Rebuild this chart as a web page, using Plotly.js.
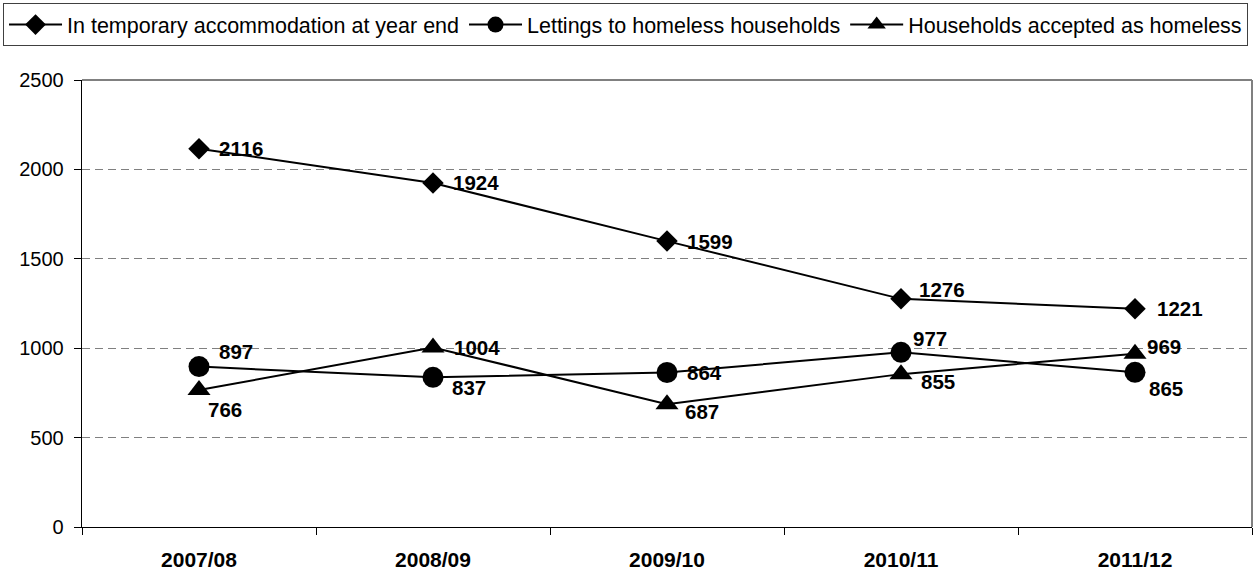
<!DOCTYPE html>
<html>
<head>
<meta charset="utf-8">
<script src="https://cdn.plot.ly/plotly-3.0.1.min.js"></script>
<style>html,body{margin:0;padding:0;background:#fff;}#chart{width:1260px;height:569px;}</style>
</head>
<body>
<div id="chart"></div>
<script>
// ---- data ----
const years = ['2007/08', '2008/09', '2009/10', '2010/11', '2011/12'];
const seriesNames = ['In temporary accommodation at year end', 'Lettings to homeless households', 'Households accepted as homeless'];
const tempAccommodation = [2116, 1924, 1599, 1276, 1221];
const lettings = [897, 837, 864, 977, 865];
const accepted = [766, 1004, 687, 855, 969];
const yTicks = [0, 500, 1000, 1500, 2000, 2500];

// ---- styling (label offsets in px: right, down) ----
const labelDx = [[20, 20, 20, 18, 22], [20, 19, 20, 12, 14], [9, 21, 18, 20, 12]];
const labelDy = [[0, 0, 0, -9, 0], [-15, 10, 0, -14, 16], [19, 0, 7, 7, -7]];
const symbols = ['diamond', 'circle', 'triangle-up'];
const sizes = [16.5, 21, 20];
const allSeries = [tempAccommodation, lettings, accepted];

const traces = allSeries.map((vals, i) => ({
  type: 'scatter', mode: 'lines+markers', name: seriesNames[i],
  x: years, y: vals,
  line: {color: '#000', width: 2},
  marker: {symbol: symbols[i], size: sizes[i], color: '#000'},
  hoverinfo: 'x+y'
}));

const annotations = [];
allSeries.forEach((vals, i) => {
  vals.forEach((v, j) => {
    annotations.push({
      x: years[j], y: v, xref: 'x', yref: 'y', text: String(v),
      showarrow: false, xanchor: 'left', yanchor: 'middle',
      xshift: labelDx[i][j] - 2, yshift: -labelDy[i][j],
      font: {family: 'Liberation Sans, Arial, sans-serif', size: 20.5, color: '#000', weight: 'bold'}
    });
  });
});

const layout = {
  width: 1260, height: 569,
  margin: {l: 82, r: 8, t: 80, b: 42, pad: 0, autoexpand: false},
  paper_bgcolor: '#fff', plot_bgcolor: '#fff',
  font: {family: 'Liberation Sans, Arial, sans-serif', color: '#000', size: 20},
  showlegend: true,
  legend: {
    orientation: 'h', x: -0.0675, y: 1.172, xanchor: 'left', yanchor: 'top',
    bordercolor: '#404040', borderwidth: 1, bgcolor: '#fff',
    font: {size: 21.5, color: '#000'}, itemwidth: 53, tracegroupgap: 0
  },
  xaxis: {
    type: 'category', range: [-0.5, 4.5], fixedrange: true, automargin: false,
    showline: true, linecolor: '#000', linewidth: 1.3,
    ticks: 'outside', tickson: 'boundaries', ticklen: 7, tickcolor: '#000', tickwidth: 1,
    showgrid: false, zeroline: false,
    tickfont: {size: 21, weight: 'bold'}, ticklabelstandoff: 13
  },
  yaxis: {
    range: [0, 2500], tickvals: yTicks, ticktext: yTicks.map(String), fixedrange: true, automargin: false,
    showline: true, linecolor: '#000', linewidth: 1.3,
    ticks: 'outside', ticklen: 7, tickcolor: '#000', tickwidth: 1,
    showgrid: true, gridcolor: '#808080', gridwidth: 1, griddash: '8px,5px',
    zeroline: false, tickfont: {size: 20}, ticklabelstandoff: 6
  },
  shapes: [
    {type: 'line', xref: 'paper', yref: 'paper', x0: 0, x1: 1, y0: 1, y1: 1, line: {color: '#808080', width: 2}},
    {type: 'line', xref: 'paper', yref: 'paper', x0: 1, x1: 1, y0: 0, y1: 1, line: {color: '#808080', width: 2}}
  ],
  annotations: annotations
};

Plotly.newPlot('chart', traces, layout, {displayModeBar: false, staticPlot: true});
</script>
</body>
</html>
